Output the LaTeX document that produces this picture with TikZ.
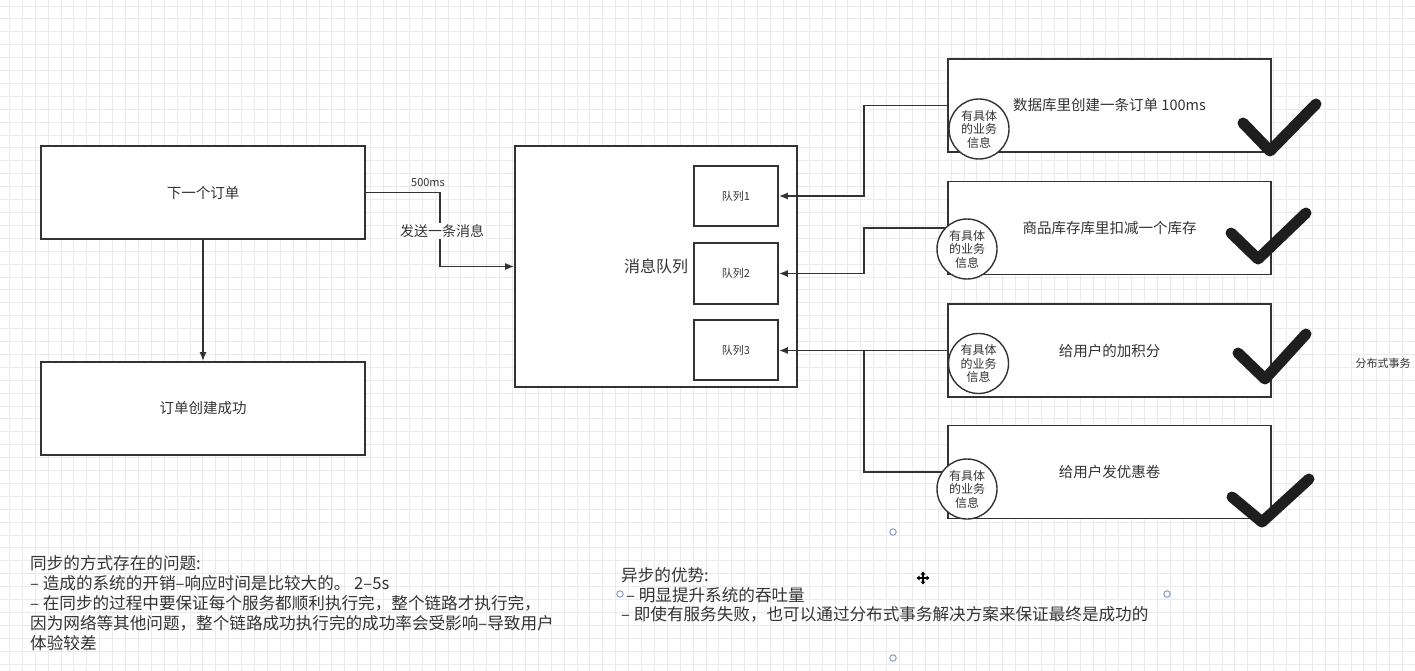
\documentclass[tikz,border=0pt]{standalone}
\usepackage{fontspec}
\setmainfont{Noto Sans CJK SC}
\usetikzlibrary{arrows.meta,calc}
\definecolor{ink}{HTML}{333333}
\definecolor{gridc}{HTML}{EBEBEB}
\definecolor{checkc}{HTML}{1E1E1E}
\definecolor{handle}{HTML}{7F9CC8}
\begin{document}
\begin{tikzpicture}[x=1pt,y=-1pt,
  gridline/.style={draw=gridc, line width=0.8pt},
  box/.style={draw=ink, line width=1.7pt, fill=white, text=ink, inner sep=0pt,
    font=\fontsize{14.5}{17}\selectfont},
  qbox/.style={box, font=\fontsize{11}{13}\selectfont},
  info/.style={circle, draw=ink, line width=1.4pt, fill=white, minimum size=60pt,
    inner sep=0pt, align=center, text=ink, font=\fontsize{12}{13.5}\selectfont},
  conn/.style={draw=ink, line width=1.6pt},
  arr/.style={conn, -{Latex[length=9pt,width=7pt]}},
  check/.style={draw=checkc, line width=11pt, line cap=round, line join=round},
  note/.style={anchor=west, text=ink, inner sep=0pt, font=\fontsize{16.6}{20}\selectfont},
  small/.style={text=ink, inner sep=0pt, font=\fontsize{11}{13}\selectfont},
  handlec/.style={draw=handle, line width=1pt, fill=white}
]
% background and grid
\fill[white] (0,0) rectangle (1415,671);
\useasboundingbox (0,0) rectangle (1415,671);
\foreach \i in {0,...,109} {\draw[gridline] ({9.3+\i*12.9},0) -- ({9.3+\i*12.9},671);}
\foreach \j in {0,...,51} {\draw[gridline] (0,{6+\j*12.9}) -- (1415,{6+\j*12.9});}

% left boxes
\node[box, minimum width=324pt, minimum height=93pt] (order) at (203,192.5) {下一个订单};
\node[box, minimum width=324pt, minimum height=93pt] (done) at (203,408.5) {订单创建成功};

% message queue
\node[box, minimum width=282pt, minimum height=241pt, font=\fontsize{16}{19}\selectfont] (mq) at (656,266.5) {消息队列};
\node[qbox, minimum width=84pt, minimum height=60pt] (q1) at (736,196) {队列1};
\node[qbox, minimum width=84pt, minimum height=61pt] (q2) at (736,273.5) {队列2};
\node[qbox, minimum width=84pt, minimum height=60pt] (q3) at (736,350) {队列3};

% right boxes
\node[box, minimum width=323pt, minimum height=93pt] (ba) at (1109.5,105.5) {数据库里创建一条订单 100ms};
\node[box, minimum width=323pt, minimum height=93pt] (bb) at (1109.5,228) {商品库存库里扣减一个库存};
\node[box, minimum width=323pt, minimum height=93pt] (bc) at (1109.5,350.5) {给用户的加积分};
\node[box, minimum width=323pt, minimum height=93pt] (bd) at (1109.5,472) {给用户发优惠卷};

% connectors
\coordinate (send) at (440,230);
\coordinate (bus) at (864,0);
\draw[arr] (order.south) -- (done.north);
\draw[arr] (order.east) -| (send) |- (mq.west);
\node[small] (t500) at (428,183) {500ms};
\node[fill=white, text=ink, inner sep=1pt, font=\fontsize{14}{16}\selectfont] (tsend) at (442,231) {发送一条消息};

\draw[arr] (ba.west) -- (ba.west -| bus) |- (q1.east);
\draw[arr] (bb.west) -- (bb.west -| bus) |- (q2.east);
\draw[arr] (bc.west) -- (bc.west -| q3.east);
\draw[conn] (bd.west) -- (bd.west -| bus) -- (bc.west -| bus);

% info circles
\node[info] (ia) at (979,129) {有具体\\的业务\\信息};
\node[info] (ib) at (967,249) {有具体\\的业务\\信息};
\node[info] (ic) at (978.5,363.5) {有具体\\的业务\\信息};
\node[info] (id) at (967,489) {有具体\\的业务\\信息};

% check marks
\draw[check] (1243,123) -- (1270,151) -- (1316,104);
\draw[check] (1231,233) -- (1258,259) -- (1306,213);
\draw[check] (1238,353) -- (1265,379) -- (1306,334);
\draw[check] (1232,497) -- (1262,522) -- (1309,479);

\node[small] (dist) at (1383,363) {分布式事务};

% notes
\node[note] (l1) at (30,563) {同步的方式存在的问题:};
\node[note] (l2) at (30,583) {– 造成的系统的开销–响应时间是比较大的。 2–5s};
\node[note] (l3) at (30,603) {– 在同步的过程中要保证每个服务都顺利执行完，整个链路才执行完，};
\node[note] (l4) at (30,623) {因为网络等其他问题，整个链路成功执行完的成功率会受影响–导致用户};
\node[note] (l5) at (30,643) {体验较差};

\node[note] (r1) at (621,575) {异步的优势:};
\node[note] (r2) at (626,595) {– 明显提升系统的吞吐量};
\node[note] (r3) at (621,614) {– 即使有服务失败，也可以通过分布式事务解决方案来保证最终是成功的};

% editor handles
\draw[handlec] (893,532) circle (3.2);
\draw[handlec] (620,594) circle (3.2);
\draw[handlec] (1167,594) circle (3.2);
\draw[handlec] (893,658) circle (3.2);

% move cursor
\coordinate (cur) at (923,578);
\draw[white, line width=3.5pt] ($(cur)+(-7,0)$) -- ($(cur)+(7,0)$) ($(cur)+(0,-7)$) -- ($(cur)+(0,7)$);
\draw[black, line width=1.4pt, {Triangle[length=3pt,width=4.5pt]}-{Triangle[length=3pt,width=4.5pt]}] ($(cur)+(-6.5,0)$) -- ($(cur)+(6.5,0)$);
\draw[black, line width=1.4pt, {Triangle[length=3pt,width=4.5pt]}-{Triangle[length=3pt,width=4.5pt]}] ($(cur)+(0,-6.5)$) -- ($(cur)+(0,6.5)$);
\end{tikzpicture}
\end{document}
